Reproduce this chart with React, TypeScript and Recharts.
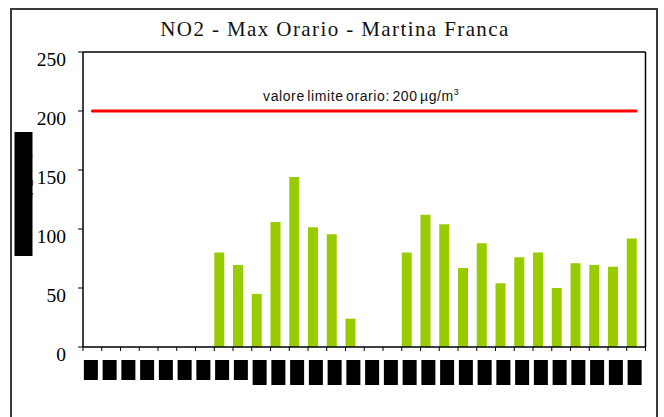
import React from "react";
import {
  ComposedChart,
  Bar,
  Line,
  XAxis,
  YAxis,
  ReferenceLine,
} from "recharts";

// giorni del mese (etichette oscurate nel riferimento)
const days = [
  "1", "2", "3", "4", "5", "6", "7", "8", "9", "10",
  "11", "12", "13", "14", "15", "16", "17", "18", "19", "20",
  "21", "22", "23", "24", "25", "26", "27", "28", "29", "30",
];

// NO2 massimo orario, µg/m³
const no2Max = [
  0, 0, 0, 0, 0, 0, 0, 80, 69.5, 45,
  106, 144, 101.5, 95.5, 24, 0, 0, 80, 112, 104,
  67, 88, 54, 76, 80, 50, 71, 69.5, 68, 92,
];

// seconda serie del foglio originale, vuota
const secondSeries: (number | null)[] = days.map(() => null);

const LIMIT = 200;
const limitSeries = days.map(() => LIMIT);

const Y_MAX = 250;
const yTicks = [0, 50, 100, 150, 200, 250];

const data = days.map((day, i) => ({
  day,
  no2: no2Max[i],
  other: secondSeries[i],
  limit: limitSeries[i],
}));

const serif = "'Liberation Serif', 'Times New Roman', serif";
const sans = "'Liberation Sans', Arial, sans-serif";

const YTick = (props: any) => {
  const { x, y, payload } = props;
  return (
    <text
      x={x}
      y={y + 7}
      dy="0.35em"
      textAnchor="end"
      fontFamily={serif}
      fontSize={19.5}
      fill="#000"
    >
      {payload.value}
    </text>
  );
};

// etichette redatte: testo nero su riquadro nero, con le tacche ai bordi delle categorie
const DayTick = (props: any) => {
  const { x, y, payload, index, visibleTicksCount } = props;
  const half = payload.offset;
  const h = payload.value.length > 1 ? 25 : 20;
  const last = index === visibleTicksCount - 1;
  return (
    <g>
      <line x1={x - half} x2={x - half} y1={y} y2={y + 4} stroke="#000" />
      {last && <line x1={x + half} x2={x + half} y1={y} y2={y + 4} stroke="#000" />}
      <rect x={x - 8.5} y={y + 13} width={14} height={h} fill="#000" />
      <text
        x={x - 1.5}
        y={y + 13 + h / 2}
        textAnchor="middle"
        dominantBaseline="central"
        fontFamily={sans}
        fontSize={10}
        fill="#000"
      >
        {payload.value}
      </text>
    </g>
  );
};

const YTitle = (props: any) => {
  const { viewBox } = props;
  const cx = viewBox.x + 23.5;
  const cy = viewBox.y + viewBox.height / 2 - 5.5;
  return (
    <g>
      <rect x={cx - 9} y={cy - 62} width={18} height={124} fill="#000" />
      <text
        x={cx}
        y={cy}
        transform={`rotate(-90 ${cx} ${cy})`}
        textAnchor="middle"
        dominantBaseline="central"
        fontFamily={serif}
        fontSize={16}
        fill="#000"
      >
        NO2 (µg/m³)
      </text>
    </g>
  );
};

const LimitLabel = (props: any) => {
  const { viewBox } = props;
  return (
    <text
      x={viewBox.x + viewBox.width / 2 - 3}
      y={viewBox.y - 10.5}
      textAnchor="middle"
      fontFamily={sans}
      fontSize={14}
      letterSpacing={0.6}
      wordSpacing={-2}
      fill="#111"
    >
      valore limite orario: {LIMIT} µg/m
      <tspan fontSize={9} dy={-6}>3</tspan>
    </text>
  );
};

export default function App() {
  return (
    <div
      style={{
        position: "absolute",
        left: 0,
        top: 0,
        width: 664,
        height: 417,
        overflow: "hidden",
        background: "#fff",
      }}
    >
      <div
        style={{
          position: "absolute",
          left: 10,
          top: 8,
          width: 648,
          height: 440,
          border: "2px solid #3a3a3a",
          boxSizing: "border-box",
        }}
      />
      <div
        style={{
          position: "absolute",
          left: 0,
          top: 19,
          width: 670,
          textAlign: "center",
          fontFamily: serif,
          fontSize: 21,
          lineHeight: "21px",
          letterSpacing: 1.4,
          color: "#111",
        }}
      >
        NO2 - Max Orario - Martina Franca
      </div>
      <div style={{ position: "absolute", left: 0, top: 0 }}>
        <ComposedChart
          width={664}
          height={417}
          data={data}
          margin={{ top: 52, right: 18.5, left: 0, bottom: 0 }}
          barCategoryGap={0}
          barGap={-1}
        >
          <XAxis
            xAxisId="cat"
            dataKey="day"
            type="category"
            interval={0}
            height={70}
            axisLine={{ stroke: "#000", strokeWidth: 1.5 }}
            tickLine={false}
            tickSize={0}
            tickMargin={0}
            tick={<DayTick />}
          />
          <YAxis
            domain={[0, Y_MAX]}
            ticks={yTicks}
            width={83}
            tickSize={5}
            tickMargin={12}
            axisLine={{ stroke: "#000", strokeWidth: 1.5 }}
            tickLine={{ stroke: "#000" }}
            tick={<YTick />}
            label={<YTitle />}
          />
          {/* cornice dell'area del grafico: lati superiore e destro */}
          <ReferenceLine xAxisId="cat" y={Y_MAX} stroke="#000" strokeWidth={1.5} />
          <ReferenceLine
            xAxisId="cat"
            x={days[days.length - 1]}
            position="end"
            stroke="#000"
            strokeWidth={1.5}
          />
          <Bar
            xAxisId="cat"
            dataKey="no2"
            fill="#99cc00"
            isAnimationActive={false}
          />
          <Bar
            xAxisId="cat"
            dataKey="other"
            fill="#cccccc"
            isAnimationActive={false}
          />
          <Line
            xAxisId="cat"
            dataKey="limit"
            stroke="#ff0000"
            strokeWidth={3}
            strokeLinecap="round"
            dot={false}
            activeDot={false}
            isAnimationActive={false}
          />
          <ReferenceLine
            xAxisId="cat"
            y={LIMIT}
            stroke="none"
            label={<LimitLabel />}
          />
        </ComposedChart>
      </div>
    </div>
  );
}
